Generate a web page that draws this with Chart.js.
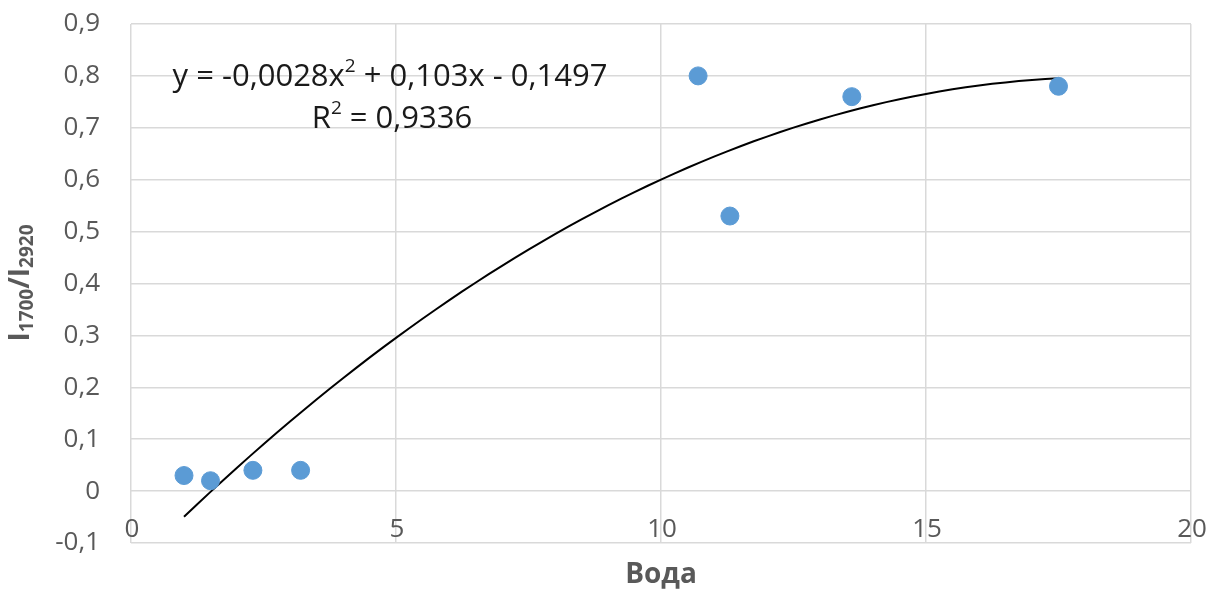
<!DOCTYPE html>
<html>
<head>
<meta charset="utf-8">
<script src="https://cdn.jsdelivr.net/npm/chart.js@4"></script>
<style>
  html, body { margin: 0; padding: 0; background: #fff; }
  #wrap { width: 1217px; height: 592px; }
</style>
</head>
<body>
<div id="wrap"><canvas id="chart"></canvas></div>
<script>
"use strict";

// measured points
const waterX = [1.0, 1.5, 2.3, 3.2, 10.7, 11.3, 13.6, 17.5];
const ratioY = [0.03, 0.02, 0.04, 0.04, 0.80, 0.53, 0.76, 0.78];

// polynomial trendline as printed on the chart: c0 + c1*x + c2*x^2
const trendCoef = [-0.1497, 0.103, -0.0028];
const trendLabel = ["y = -0,0028x", "2", " + 0,103x - 0,1497"];
const r2Label = ["R", "2", " = 0,9336"];

const xTicks = [0, 5, 10, 15, 20];
const yTicks = [-0.1, 0, 0.1, 0.2, 0.3, 0.4, 0.5, 0.6, 0.7, 0.8, 0.9];

const GRAY = "#595959";
const GRID = "#d9d9d9";
const FONT = "'Open Sans', 'Noto Sans', sans-serif";

const trend = [];
for (let x = waterX[0]; x <= waterX[waterX.length - 1] + 1e-9; x += 0.25) {
  trend.push({ x, y: trendCoef[0] + trendCoef[1] * x + trendCoef[2] * x * x });
}

const fmt = (v) => {
  const r = Math.round(v * 10) / 10;
  if (r === 0) return "0";
  return r.toFixed(1).replace(".", ",");
};

// draws text pieces [base, sup, base] centred at cx
function drawSupLine(ctx, parts, cx, cy, size) {
  const supSize = Math.round(size * 0.62);
  ctx.font = `${size}px ${FONT}`;
  const w0 = ctx.measureText(parts[0]).width;
  const w2 = ctx.measureText(parts[2]).width;
  ctx.font = `${supSize}px ${FONT}`;
  const w1 = ctx.measureText(parts[1]).width;
  let x = cx - (w0 + w1 + w2) / 2;
  ctx.textBaseline = "middle";
  ctx.textAlign = "left";
  ctx.font = `${size}px ${FONT}`;
  ctx.fillText(parts[0], x, cy);
  x += w0;
  ctx.font = `${supSize}px ${FONT}`;
  ctx.fillText(parts[1], x, cy - size * 0.32);
  x += w1;
  ctx.font = `${size}px ${FONT}`;
  ctx.fillText(parts[2], x, cy);
}

const labelsPlugin = {
  id: "labels",
  afterDraw(chart) {
    const ctx = chart.ctx;
    const a = chart.chartArea;
    const xs = chart.scales.x;
    ctx.save();

    // x tick labels sit inside the plot, just above the bottom edge
    ctx.fillStyle = GRAY;
    ctx.font = `26px ${FONT}`;
    ctx.textAlign = "center";
    ctx.textBaseline = "middle";
    for (const v of xTicks) ctx.fillText(String(v), xs.getPixelForValue(v) + 1, a.bottom - 13);

    // equation
    ctx.fillStyle = "#1a1a1a";
    drawSupLine(ctx, trendLabel, 390, 77, 31);
    drawSupLine(ctx, r2Label, 392, 119, 31);

    // x title
    ctx.fillStyle = GRAY;
    ctx.font = `bold 28px ${FONT}`;
    ctx.textAlign = "center";
    ctx.textBaseline = "middle";
    ctx.fillText("Вода", (a.left + a.right) / 2, 575);

    // y title with subscripts
    ctx.translate(21, 283);
    ctx.rotate(-Math.PI / 2);
    const big = `bold 28px ${FONT}`;
    const small = `bold 19px ${FONT}`;
    const pieces = [["I", big, 0], ["1700", small, 7], ["/I", big, 0], ["2920", small, 7]];
    let total = 0;
    for (const p of pieces) { ctx.font = p[1]; total += ctx.measureText(p[0]).width; }
    let x = -total / 2;
    ctx.textAlign = "left";
    for (const p of pieces) {
      ctx.font = p[1];
      ctx.fillText(p[0], x, p[2]);
      x += ctx.measureText(p[0]).width;
    }
    ctx.restore();
  },
};

new Chart(document.getElementById("chart"), {
  type: "scatter",
  data: {
    datasets: [
      {
        label: "points",
        data: waterX.map((x, i) => ({ x, y: ratioY[i] })),
        backgroundColor: "#5b9bd5",
        borderColor: "#5b9bd5",
        pointRadius: 9,
        pointHoverRadius: 9,
        order: 1,
      },
      {
        label: "trend",
        type: "line",
        data: trend,
        borderColor: "#000",
        borderWidth: 2,
        pointRadius: 0,
        tension: 0,
        fill: false,
        order: 2,
      },
    ],
  },
  options: {
    responsive: true,
    maintainAspectRatio: false,
    animation: false,
    layout: { padding: { top: 24, right: 26, left: 0, bottom: 0 } },
    plugins: { legend: { display: false }, tooltip: { enabled: false } },
    scales: {
      x: {
        type: "linear",
        min: 0,
        max: 20,
        afterBuildTicks: (s) => { s.ticks = xTicks.map(v => ({ value: v })); },
        afterFit: (s) => { s.height = 49; s.paddingLeft = 0; s.paddingRight = 0; },
        grid: { color: GRID, lineWidth: 1.5, drawTicks: false },
        border: { display: false },
        ticks: { display: false },
      },
      y: {
        min: -0.1,
        max: 0.9,
        afterBuildTicks: (s) => { s.ticks = yTicks.map(v => ({ value: v })); },
        afterFit: (s) => { s.width = 131; s.paddingTop = 0; s.paddingBottom = 0; },
        grid: { color: GRID, lineWidth: 1.5, drawTicks: false },
        border: { display: false },
        ticks: {
          color: GRAY,
          font: { family: FONT, size: 26 },
          padding: 31,
          callback: (v) => fmt(v),
        },
      },
    },
  },
  plugins: [labelsPlugin],
});
</script>
</body>
</html>
